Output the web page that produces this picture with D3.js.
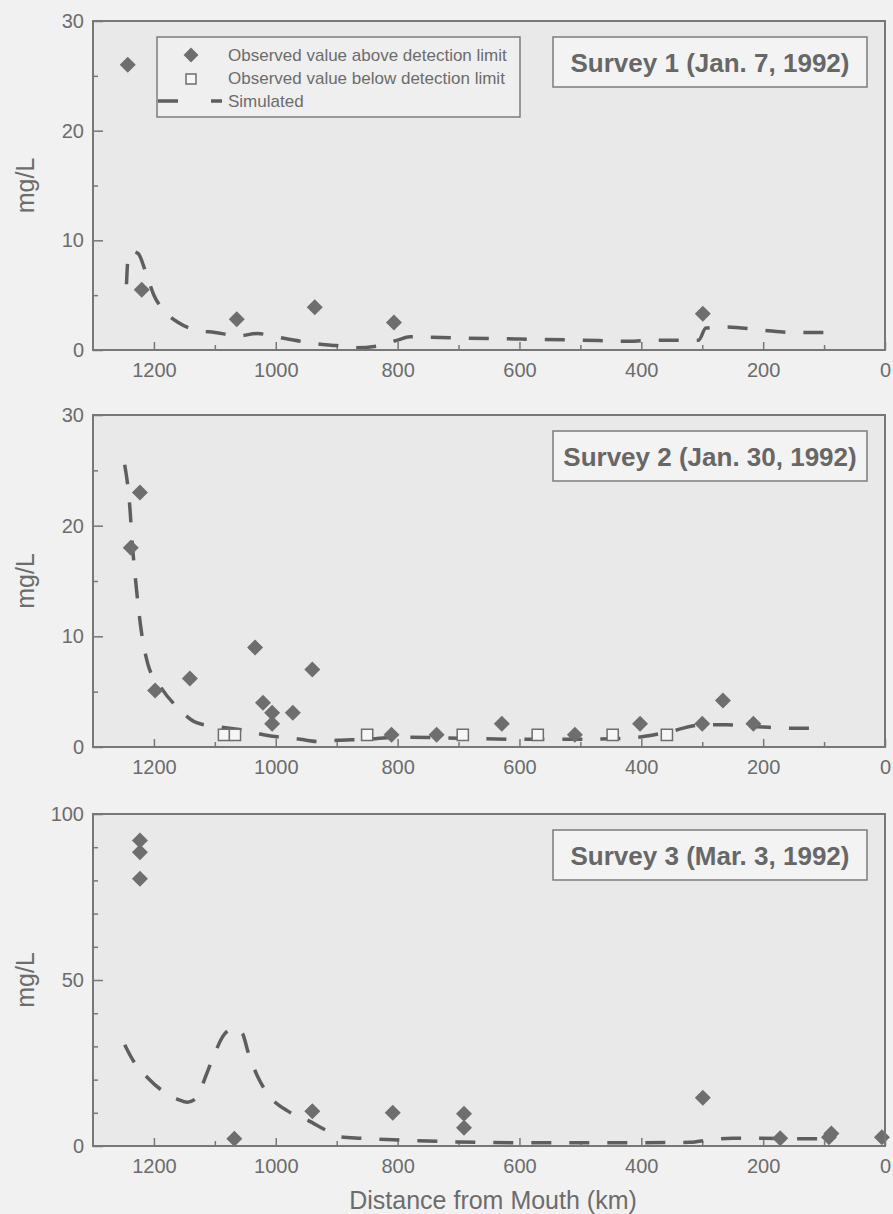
<!DOCTYPE html>
<html>
<head>
<meta charset="utf-8">
<script src="https://cdn.jsdelivr.net/npm/d3@7"></script>
<style>
  html, body { margin: 0; padding: 0; background: #f1f1f1; }
  svg { display: block; font-family: "Liberation Sans", Arial, Helvetica, sans-serif; }
</style>
</head>
<body>
<svg id="chart" width="893" height="1214"></svg>
<script>
// Distance axis (km from mouth), shared by all three surveys
const xTickLabels = [1200, 1000, 800, 600, 400, 200, 0];
const xMinorTicks = [1100, 900, 700, 500, 300, 100];

// Survey 1 (Jan. 7, 1992): [distance km, mg/L]
const survey1Above = [[1243, 26.0], [1220, 5.5], [1064, 2.8], [936, 3.9], [806, 2.5], [299, 3.3]];
const survey1Below = [];
const survey1Sim = [[1245, 6.0], [1243, 8.0], [1237, 9.0], [1226, 8.8], [1214, 7.2], [1200, 5.0],
  [1180, 3.4], [1160, 2.5], [1130, 1.8], [1100, 1.6], [1060, 1.3], [1030, 1.5], [1000, 1.2],
  [960, 0.8], [930, 0.55], [900, 0.4], [870, 0.2], [830, 0.4], [800, 0.9], [780, 1.2],
  [700, 1.1], [600, 1.0], [500, 0.9], [420, 0.8], [380, 0.9], [306, 0.9], [294, 2.0],
  [260, 2.1], [200, 1.8], [150, 1.6], [100, 1.6]];

// Survey 2 (Jan. 30, 1992)
const survey2Above = [[1223, 23.0], [1238, 18.0], [1198, 5.1], [1141, 6.2], [1034, 9.0], [1021, 4.0],
  [1006, 3.1], [1006, 2.1], [972, 3.1], [940, 7.0], [810, 1.1], [736, 1.1], [629, 2.1],
  [509, 1.1], [402, 2.1], [300, 2.1], [266, 4.2], [216, 2.1]];
const survey2Below = [[1085, 1.1], [1067, 1.1], [850, 1.1], [693, 1.1], [570, 1.1], [447, 1.1], [358, 1.1]];
const survey2Sim = [[1248, 25.5], [1240, 22.0], [1235, 18.0], [1230, 15.0], [1222, 11.0], [1210, 7.5],
  [1190, 5.5], [1160, 3.5], [1130, 2.2], [1090, 1.8], [1050, 1.5], [1020, 1.1], [960, 0.7],
  [930, 0.5], [900, 0.6], [850, 0.7], [800, 0.9], [700, 0.8], [600, 0.7], [500, 0.7],
  [420, 0.8], [360, 1.3], [300, 2.0], [260, 2.0], [200, 1.8], [150, 1.7], [100, 1.7]];

// Survey 3 (Mar. 3, 1992)
const survey3Above = [[1223, 92.0], [1223, 88.5], [1223, 80.5], [1068, 2.2], [940, 10.5], [808, 10.0],
  [691, 9.7], [691, 5.5], [299, 14.5], [172, 2.3], [88, 3.8], [92, 2.6], [5, 2.6]];
const survey3Below = [];
const survey3Sim = [[1248, 30.5], [1235, 26.0], [1210, 20.5], [1185, 16.5], [1160, 14.0], [1145, 13.2],
  [1130, 14.5], [1115, 21.0], [1100, 28.0], [1085, 33.5], [1068, 35.5], [1055, 34.0], [1045, 28.0],
  [1030, 21.0], [1010, 15.0], [980, 10.5], [950, 8.0], [915, 4.5], [895, 2.8], [860, 2.3],
  [800, 1.8], [750, 1.5], [700, 1.2], [600, 1.0], [500, 1.0], [400, 1.0], [320, 1.1],
  [290, 1.8], [250, 2.3], [200, 2.3], [150, 2.2], [100, 2.2]];

const panelTitles = ["Survey 1 (Jan. 7, 1992)", "Survey 2 (Jan. 30, 1992)", "Survey 3 (Mar. 3, 1992)"];
const yMaxima = [30, 30, 100];
const yTickLabels = [[0, 10, 20, 30], [0, 10, 20, 30], [0, 50, 100]];
const yMinorTicks = [[5, 15, 25], [5, 15, 25], [10, 20, 30, 40, 60, 70, 80, 90]];
const legendLabels = ["Observed value above detection limit", "Observed value below detection limit", "Simulated"];

const textColor = "#6c6c6c";
const frameColor = "#777";
const markColor = "#6e6e6e";

const svg = d3.select("#chart");
svg.append("rect").attr("width", 893).attr("height", 1214).attr("fill", "#f1f1f1");

const left = 93, right = 885;
const x = d3.scaleLinear().domain([1300, 0]).range([left, right]);

const panels = [
  { top: 21, bottom: 350, above: survey1Above, below: survey1Below, sim: survey1Sim, legend: true },
  { top: 415, bottom: 747, above: survey2Above, below: survey2Below, sim: survey2Sim, legend: false },
  { top: 814, bottom: 1146, above: survey3Above, below: survey3Below, sim: survey3Sim, legend: false }
];

const diamond = d3.symbol().type(d3.symbolSquare).size(128);
const square = d3.symbol().type(d3.symbolSquare).size(125);

panels.forEach((p, i) => {
  const y = d3.scaleLinear().domain([0, yMaxima[i]]).range([p.bottom, p.top]);
  const g = svg.append("g");

  // plot area
  g.append("rect")
    .attr("x", left).attr("y", p.top)
    .attr("width", right - left).attr("height", p.bottom - p.top)
    .attr("fill", "#e9e9e9");

  // x axis: labelled ticks every 200 km, minor every 100 km, all pointing inward
  g.append("g").attr("transform", `translate(0,${p.bottom})`)
    .call(d3.axisBottom(x).tickValues(xTickLabels).tickSize(-8).tickPadding(13).tickFormat(d3.format("d")));
  g.append("g").attr("transform", `translate(0,${p.bottom})`)
    .call(d3.axisBottom(x).tickValues(xMinorTicks).tickSize(-5).tickFormat(""));

  // y axis
  g.append("g").attr("transform", `translate(${left},0)`)
    .call(d3.axisLeft(y).tickValues(yTickLabels[i]).tickSize(-10).tickPadding(9).tickFormat(d3.format("d")));
  g.append("g").attr("transform", `translate(${left},0)`)
    .call(d3.axisLeft(y).tickValues(yMinorTicks[i]).tickSize(-5).tickFormat(""));

  g.selectAll(".domain").remove();
  g.selectAll(".tick line").attr("stroke", frameColor).attr("stroke-width", 1.5);
  g.selectAll(".tick text")
    .attr("fill", textColor).attr("font-size", 20)
    .attr("font-family", "'Liberation Sans', Arial, sans-serif");

  // y axis title
  g.append("text")
    .attr("transform", `translate(34,${(p.top + p.bottom) / 2}) rotate(-90)`)
    .attr("text-anchor", "middle")
    .attr("fill", textColor).attr("font-size", 25)
    .text("mg/L");

  // simulated profile
  const line = d3.line().x(d => x(d[0])).y(d => y(d[1])).curve(d3.curveMonotoneX);
  g.append("path")
    .datum(p.sim)
    .attr("d", line)
    .attr("fill", "none")
    .attr("stroke", "#5e5e5e")
    .attr("stroke-width", 3.5)
    .attr("stroke-dasharray", "20,18");

  // observations below detection limit
  g.selectAll(".below").data(p.below).join("path")
    .attr("class", "below")
    .attr("transform", d => `translate(${x(d[0])},${y(d[1])})`)
    .attr("d", square)
    .attr("fill", "#f6f6f6")
    .attr("stroke", markColor).attr("stroke-width", 1.5);

  // observations above detection limit
  g.selectAll(".above").data(p.above).join("path")
    .attr("class", "above")
    .attr("transform", d => `translate(${x(d[0])},${y(d[1])}) rotate(45)`)
    .attr("d", diamond)
    .attr("fill", markColor);

  // frame
  g.append("rect")
    .attr("x", left).attr("y", p.top)
    .attr("width", right - left).attr("height", p.bottom - p.top)
    .attr("fill", "none").attr("stroke", frameColor).attr("stroke-width", 2);

  // survey label
  const boxTop = p.top + 16;
  g.append("rect")
    .attr("x", 553).attr("y", boxTop).attr("width", 314).attr("height", 50)
    .attr("fill", "#f3f3f3").attr("stroke", "#7c7c7c").attr("stroke-width", 1.5);
  g.append("text")
    .attr("x", 710).attr("y", boxTop + 34.5)
    .attr("text-anchor", "middle")
    .attr("font-weight", "bold").attr("font-size", 26)
    .attr("fill", "#676767")
    .text(panelTitles[i]);

  if (p.legend) {
    const lg = g.append("g");
    lg.append("rect")
      .attr("x", 157).attr("y", 37).attr("width", 363).attr("height", 80)
      .attr("fill", "#efefef").attr("stroke", "#7c7c7c").attr("stroke-width", 1.5);
    lg.append("path")
      .attr("transform", "translate(191,55) rotate(45)")
      .attr("d", d3.symbol().type(d3.symbolSquare).size(110)())
      .attr("fill", markColor);
    lg.append("path")
      .attr("transform", "translate(191,79)")
      .attr("d", d3.symbol().type(d3.symbolSquare).size(100)())
      .attr("fill", "#f6f6f6").attr("stroke", markColor).attr("stroke-width", 1.5);
    lg.append("line")
      .attr("x1", 158).attr("x2", 222).attr("y1", 101).attr("y2", 101)
      .attr("stroke", "#5e5e5e").attr("stroke-width", 3.5)
      .attr("stroke-dasharray", "20,33");
    lg.selectAll(".lt").data(legendLabels).join("text")
      .attr("class", "lt")
      .attr("x", 228).attr("y", (d, k) => [61, 84, 107][k])
      .attr("font-size", 17).attr("fill", textColor)
      .text(d => d);
  }
});

// shared x axis title
svg.append("text")
  .attr("x", 493).attr("y", 1209)
  .attr("text-anchor", "middle")
  .attr("font-size", 25).attr("fill", textColor)
  .text("Distance from Mouth (km)");
</script>
</body>
</html>
